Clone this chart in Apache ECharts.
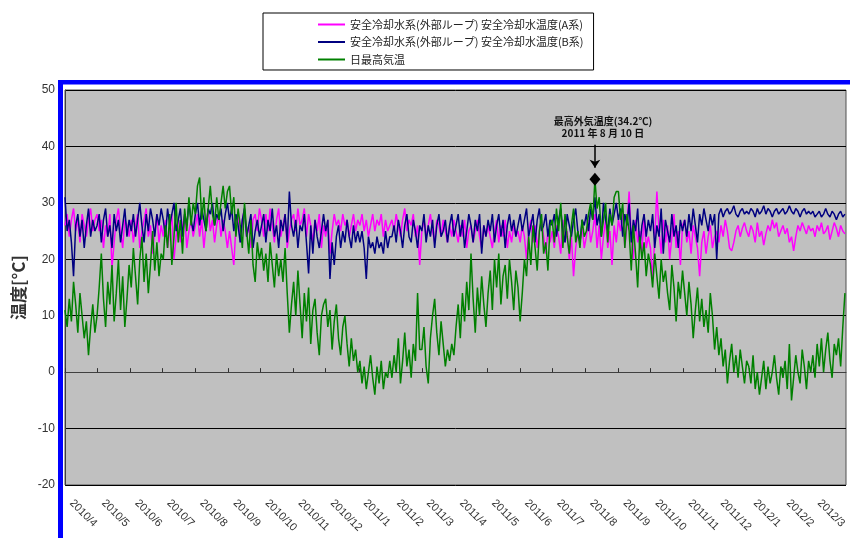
<!DOCTYPE html>
<html>
<head>
<meta charset="utf-8">
<script src="https://cdn.jsdelivr.net/npm/echarts@6/dist/echarts.min.js"></script>
<style>
  html, body { margin: 0; padding: 0; background: #fff; }
  #chart { width: 850px; height: 538px; }
</style>
</head>
<body>
<div id="chart"></div>
<script>
// Sampling: one reading every 2 days starting 2010-04-01
const startYear = 2010, startMonth = 4, startDay = 1;
const stepDays = 2;
const totalDays = 732; // 2010/4/1 .. 2012/4/1 inclusive

const seriesNames = [
  '安全冷却水系(外部ループ) 安全冷却水温度(A系)',
  '安全冷却水系(外部ループ) 安全冷却水温度(B系)',
  '日最高気温'
];

// Safety cooling water temperature, train A (°C)
const tempA = [
  26, 28, 24, 27, 29, 25, 27, 23, 28, 26, 24, 27, 29, 25, 27,
  28, 25, 27, 22, 26, 24, 28, 18.5, 23, 27, 29, 25, 22, 27, 26, 24,
  27, 23, 26, 28, 22, 25, 27, 29, 24, 26, 21, 25, 28, 23, 26,
  24, 27, 22, 25, 28, 20, 24, 27, 23, 26, 28, 22, 25, 27, 24,
  26, 28, 24, 27, 22, 26, 29, 25, 27, 23, 26, 28, 24, 27, 25, 22,
  25, 22, 19, 26, 28, 23, 27, 29, 24, 26, 22, 27, 28, 25, 29,
  27, 24, 28, 25, 29, 26, 23, 27, 29, 24, 26, 28, 22, 25, 27,
  28, 25, 29, 26, 27, 29, 24, 28, 26, 23, 27, 25, 28, 22, 26,
  24, 27, 21, 25, 28, 26, 27, 25, 28, 26, 27, 24, 26, 28, 25, 27,
  26, 28, 25, 27, 24, 26, 28, 25, 27, 26, 28, 24, 27, 25, 26,
  27, 25, 28, 26, 24, 27, 29, 25, 27, 26, 28, 24, 26, 19,
  25, 27, 24, 26, 28, 25, 23, 27, 26, 24, 27, 25, 23, 26, 24, 27,
  25, 23, 26, 24, 27, 22, 25, 26, 23, 25, 27, 24, 22, 26, 24,
  26, 24, 22, 25, 27, 23, 26, 24, 27, 22, 25, 23, 26, 24, 25,
  23, 26, 24, 20, 25, 27, 23, 26, 22, 25, 27, 24, 21, 25, 23,
  25, 22, 26, 24, 21, 27, 23, 25, 20, 24, 17, 22, 25, 23, 26, 22,
  24, 27, 23, 25, 28, 22, 26, 20, 24, 27, 22, 25, 19, 26, 23,
  27, 25, 29, 22, 26, 32, 24, 20, 27, 23, 25, 21, 28, 22, 24,
  22, 16.5, 24, 32, 25, 21, 27, 23, 26, 20, 24, 28, 22, 25, 19, 26,
  27, 23, 25, 21, 26, 24, 22, 17, 23, 25, 21, 24, 26, 22, 24,
  25, 23, 26, 24, 27, 25, 22, 21.5, 23, 25, 26, 24, 25.5, 26.5, 25,
  24, 26, 25, 23, 26.5, 24, 25, 22.5, 24.5, 26, 25, 27, 25.5, 26.5, 24, 25,
  26, 24.5, 25.5, 23, 24, 21.5, 24, 26, 25, 26.5, 25.5, 24.5, 26, 25,
  25.5, 24, 26, 25, 26.5, 24.5, 25, 26, 23.5, 25, 26.5, 25.5, 24, 26, 25, 24.5
];

// Safety cooling water temperature, train B (°C)
const tempB = [
  31, 25, 27, 23, 17, 26, 28, 24, 27, 22, 26, 29, 24, 27, 25,
  26, 28, 23, 27, 29, 24, 26, 22, 28, 25, 27, 23, 26, 29, 24, 27,
  25, 28, 24, 27, 30, 26, 23, 28, 25, 29, 27, 24, 28, 26, 29,
  27, 24, 29, 26, 28, 30, 25, 27, 29, 24, 28, 26, 30, 27, 25,
  28, 30, 26, 29, 27, 25, 29, 28, 30, 26, 28, 27, 29, 25, 28, 30,
  27, 29, 25, 28, 26, 23, 27, 29, 24, 26, 28, 22, 25, 27, 24,
  26, 28, 23, 27, 25, 29, 24, 26, 22, 27, 25, 28, 23, 32, 26,
  24, 27, 22, 26, 25, 28, 23, 17.5, 26, 21, 27, 24, 22, 25, 28,
  25, 27, 16.5, 23, 19, 24, 26, 22, 25, 23, 27, 24, 22, 26, 23, 25,
  23, 25, 22, 16.5, 24, 22, 23, 21, 24, 22, 23, 21, 25, 22, 24,
  24, 26, 23, 27, 25, 22, 26, 28, 24, 23, 27, 25, 22, 26,
  25, 28, 23, 26, 24, 27, 22, 26, 28, 24, 25, 27, 23, 26, 28, 24,
  26, 28, 24, 27, 22, 25, 28, 26, 23, 27, 25, 28, 21, 26, 24,
  27, 25, 28, 23, 26, 28, 24, 27, 22, 26, 28, 25, 27, 24, 26,
  28, 25, 27, 29, 24, 26, 28, 23, 27, 29, 25, 26, 28, 24, 27,
  26, 28, 24, 27, 29, 25, 23, 28, 26, 24, 27, 29, 25, 23, 27, 26,
  28, 25, 29, 27, 31, 26, 28, 24, 30, 27, 25, 29, 26, 28, 30,
  27, 29, 24, 28, 26, 30, 23, 27, 25, 29, 22, 26, 28, 24, 27,
  25, 28, 22, 26, 24, 29, 21, 27, 25, 23, 28, 24, 26, 22, 27, 25,
  27, 24, 28, 25, 29, 26, 23, 28, 26, 29, 27, 25, 28, 26, 28,
  20, 28, 29, 27.5, 28.5, 29, 28, 28.5, 29.5, 28, 27.5, 28.5, 29, 28, 28.5,
  28, 29, 28.5, 27.5, 29, 28, 28.5, 29.5, 28, 29, 28.5, 27.5, 28.5, 29, 28, 28.5,
  29, 28, 28.5, 29.5, 28.5, 28, 29, 28.5, 27.5, 28.5, 29, 28, 28.5, 28,
  28.5, 27.5, 28, 28.5, 27.5, 28, 29, 28, 27.5, 28.5, 28, 27, 28, 28.5, 27.5, 28
];

// Daily maximum air temperature (°C)
const airMax = [
  11, 8, 13, 9, 16, 12, 7, 14, 10, 6, 9, 3, 8, 12, 7,
  10, 15, 21, 13, 8, 16, 12, 19, 9, 14, 20, 11, 17, 8, 13, 19,
  15, 22, 17, 12, 20, 24, 16, 21, 14, 19, 25, 18, 23, 17, 21,
  20, 26, 22, 28, 19, 24, 30, 23, 27, 21, 29, 25, 31, 26, 30,
  28, 33, 34.5, 27, 31, 25, 29, 33, 28, 26, 31, 27, 30, 33, 29, 32,
  33, 28, 31, 24, 29, 26, 22, 30, 25, 21, 27, 19, 16, 23, 20,
  22, 18, 21, 16, 23, 19, 15, 21, 17, 20, 16, 22, 14, 7, 12,
  16, 10, 18, 12, 6, 14, 9, 15, 5, 11, 13, 7, 3, 10, 12,
  13, 8, 11, 4, 9, 12, 6, 3, 8, 10, 5, 1, 6, 2, 4, 0,
  2, -2, 1, -3, 0, 3, -1, -4, 1, -2, 2, -3, 0, -1, 2,
  -1, 3, 0, 6, -2, 2, 7, 1, 4, -1, 5, 2, 14, 4,
  4, 8, 1, -2, 6, 10, 13, 7, 3, 9, 5, 1, 4, 2, 5, 3,
  8, 12, 6, 14, 9, 16, 11, 21, 13, 7, 15, 10, 17, 12, 8,
  14, 18, 11, 20, 15, 21, 12, 17, 19, 13, 20, 16, 11, 18, 15,
  9, 14, 20, 17, 24, 19, 26, 22, 18, 25, 28, 21, 23, 18, 26,
  27, 23, 29, 25, 30, 22, 28, 24, 21, 26, 29, 23, 25, 22, 27, 24,
  25, 28, 30, 27, 34.2, 29, 31, 24, 27, 30, 23, 28, 26, 31, 32,
  32, 27, 30, 22, 28, 25, 18, 26, 21, 15, 24, 20, 23, 17, 21,
  19, 15, 21, 17, 13, 20, 16, 18, 14, 11, 19, 15, 9, 16, 13, 18,
  14, 10, 16, 12, 6, 11, 15, 9, 13, 8, 11, 7, 14, 10, 4,
  8, 3, 6, 1, 4, -2, 2, 5, 0, 3, -1, 4, 1, -2, 2,
  1, -2, 3, -3, 0, -4, -1, 2, -3, 1, -2, 0, 3, -1, -4, 1,
  -1, 2, -3, 5, -5, -1, 3, 0, -2, 4, 1, -3, 2, 0,
  3, -1, 5, 1, 6, 0, 4, 7, 2, -1, 5, 3, 6, 1, 8, 14
];

// Highest outdoor temperature of the period
const peakDate = '2011/8/10';
const peakValue = 34.2;

const yTicks = { min: -20, max: 50, step: 10 };

// One category per calendar day
const days = [];
for (let d = 0; d < totalDays; d++) {
  const t = new Date(startYear, startMonth - 1, startDay + d);
  days.push(t.getFullYear() + '/' + (t.getMonth() + 1) + '/' + t.getDate());
}

function pairs(values) {
  return values.map((v, i) => [i * stepDays, v]);
}

// month starts get a tick and a label; the closing 2012/4/1 edge does not
function isMonthStart(index, value) {
  return index < totalDays - 1 && /\/1$/.test(value);
}

const [py, pm, pd] = peakDate.split('/');

const jpFont = '"Noto Sans CJK JP", "Noto Sans", sans-serif';
const numFont = '"Liberation Sans", Arial, sans-serif';

const chart = echarts.init(document.getElementById('chart'), null, { renderer: 'canvas' });

chart.setOption({
  animation: false,
  backgroundColor: '#ffffff',
  grid: {
    left: 65, right: 4, top: 90, bottom: 53,
    show: true, backgroundColor: '#c0c0c0', borderColor: '#505050', borderWidth: 1
  },
  legend: {
    orient: 'vertical',
    left: 263, top: 13,
    padding: [6, 10, 5, 55],
    itemGap: 6.5,
    itemWidth: 27, itemHeight: 2,
    icon: 'rect',
    backgroundColor: '#ffffff',
    borderColor: '#000000', borderWidth: 1, borderRadius: 0,
    textStyle: { fontFamily: jpFont, fontSize: 11, color: '#222' },
    data: seriesNames
  },
  xAxis: {
    type: 'category',
    data: days,
    boundaryGap: false,
    axisLine: { show: true, lineStyle: { color: '#404040', width: 1 } },
    axisTick: { show: true, inside: true, length: 4, interval: isMonthStart, lineStyle: { color: '#303030' } },
    splitLine: { show: false },
    axisLabel: {
      interval: isMonthStart,
      rotate: -45,
      margin: 10,
      padding: [0, 0, 0, 9],
      fontFamily: numFont, fontSize: 11, color: '#333',
      formatter: function (v) { return v.split('/').slice(0, 2).join('/'); }
    }
  },
  yAxis: {
    type: 'value',
    min: yTicks.min, max: yTicks.max, interval: yTicks.step,
    name: '温度[°C]',
    nameLocation: 'middle', nameRotate: 90, nameGap: 26,
    nameTextStyle: { fontFamily: jpFont, fontSize: 17, fontWeight: 'bold', color: '#333' },
    axisLine: { show: true, lineStyle: { color: '#404040', width: 1 } },
    axisTick: { show: false },
    splitLine: { show: true, lineStyle: { color: '#000000', width: 1 } },
    axisLabel: { margin: 10, fontFamily: numFont, fontSize: 12, color: '#333' }
  },
  series: [
    {
      name: seriesNames[0], type: 'line', data: pairs(tempA),
      symbol: 'none', color: '#ff00ff',
      lineStyle: { width: 1.5, color: '#ff00ff' }, z: 2
    },
    {
      name: seriesNames[1], type: 'line', data: pairs(tempB),
      symbol: 'none', color: '#000080',
      lineStyle: { width: 1.5, color: '#000080' }, z: 3
    },
    {
      name: seriesNames[2], type: 'line', data: pairs(airMax),
      symbol: 'none', color: '#008000',
      lineStyle: { width: 1.5, color: '#008000' }, z: 4,
      markPoint: {
        silent: true,
        data: [
          {
            coord: [peakDate, peakValue], symbol: 'diamond', symbolSize: [11, 13],
            itemStyle: { color: '#000000' }, label: { show: false }
          },
          {
            coord: [peakDate, 40.5], symbol: 'circle', symbolSize: 0,
            label: {
              show: true, position: 'top', distance: 4, offset: [8, 0],
              fontFamily: jpFont, fontSize: 10, fontWeight: 'bold', color: '#111',
              lineHeight: 12, align: 'center',
              formatter: '最高外気温度(' + peakValue + '℃)\n' + py + ' 年 ' + pm + ' 月 ' + pd + ' 日'
            }
          }
        ]
      },
      markLine: {
        silent: true,
        symbol: ['none', 'arrow'], symbolSize: 8,
        label: { show: false },
        lineStyle: { color: '#000000', width: 1.5, type: 'solid' },
        data: [[{ coord: [peakDate, 40.3] }, { coord: [peakDate, 36.2] }]]
      }
    }
  ],
  graphic: [
    { type: 'rect', shape: { x: 58, y: 80, width: 792, height: 4.5 }, style: { fill: '#0000ff' }, z: 100 },
    { type: 'rect', shape: { x: 58, y: 80, width: 5, height: 458 }, style: { fill: '#0000ff' }, z: 100 }
  ]
});
</script>
</body>
</html>
